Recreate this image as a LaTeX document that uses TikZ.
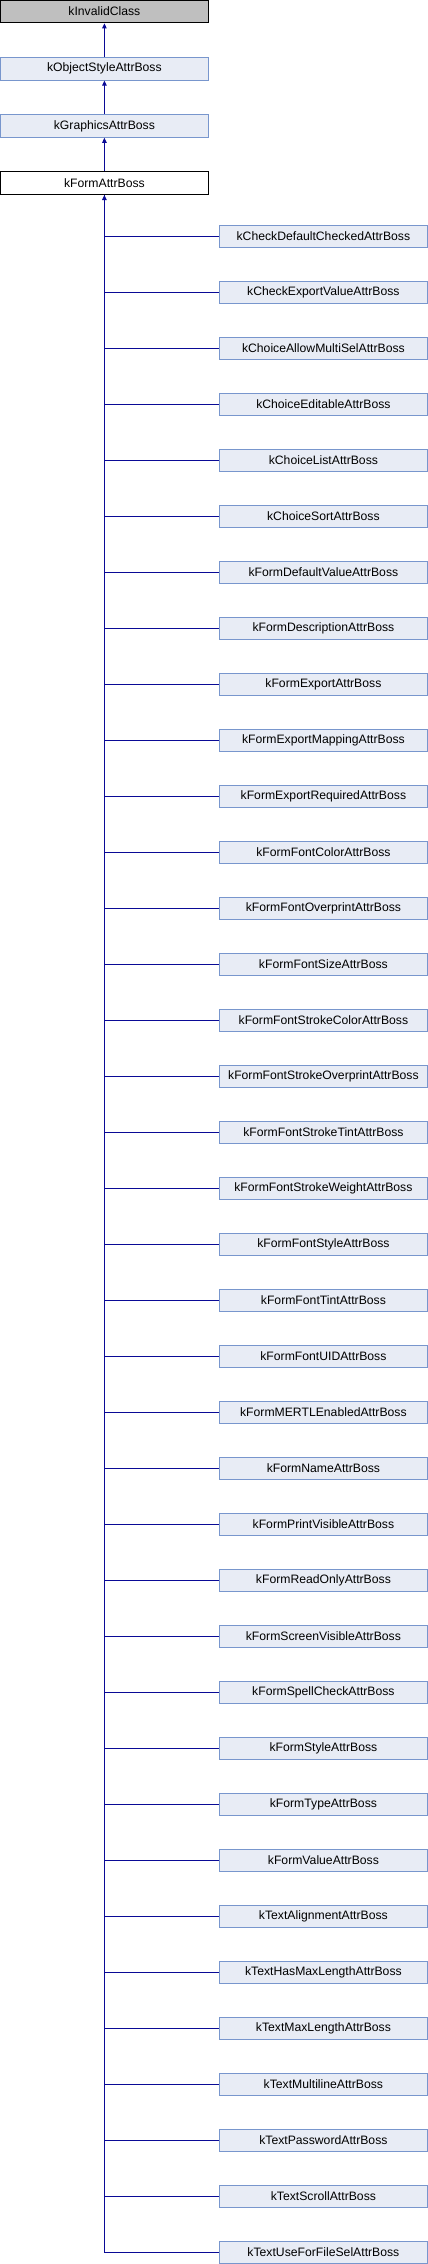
\documentclass[tikz,border=0pt]{standalone}
\usepackage{fontspec}
\setmainfont{Liberation Sans}
\usepackage{tikz}
\usetikzlibrary{arrows.meta,positioning}
\definecolor{boxfill}{RGB}{232,236,245}
\definecolor{boxline}{RGB}{120,150,205}
\definecolor{edgeblue}{RGB}{10,10,150}
\definecolor{rootfill}{RGB}{191,191,191}

\begin{document}
\begin{tikzpicture}[
  x=1pt, y=1pt,
  node distance=33.6pt,
  box/.style={draw=boxline, fill=boxfill, line width=1pt, minimum width=208pt, minimum height=22.6pt, inner sep=0pt, align=center, font=\fontsize{12.2}{14}\selectfont},
  rootbox/.style={box, draw=black, fill=rootfill},
  curbox/.style={box, draw=black, fill=white},
  edge/.style={draw=edgeblue, line width=1pt},
  inherit/.style={edge, -{Triangle[length=5pt,width=4.5pt]}}
]
\useasboundingbox (0,0) rectangle (428,-2264);

\node[rootbox] (invalid) at (104.4,-11.6) {kInvalidClass};
\node[box, below=of invalid] (objstyle) {kObjectStyleAttrBoss};
\node[box, below=of objstyle] (graphics) {kGraphicsAttrBoss};
\node[curbox, below=of graphics] (form) {kFormAttrBoss};

\draw[inherit] (objstyle) -- (invalid);
\draw[inherit] (graphics) -- (objstyle);
\draw[inherit] (form) -- (graphics);

% derived classes
\foreach \name [count=\i] in {CheckDefaultChecked, CheckExportValue, ChoiceAllowMultiSel,
    ChoiceEditable, ChoiceList, ChoiceSort, FormDefaultValue, FormDescription, FormExport,
    FormExportMapping, FormExportRequired, FormFontColor, FormFontOverprint, FormFontSize,
    FormFontStrokeColor, FormFontStrokeOverprint, FormFontStrokeTint, FormFontStrokeWeight,
    FormFontStyle, FormFontTint, FormFontUID, FormMERTLEnabled, FormName, FormPrintVisible,
    FormReadOnly, FormScreenVisible, FormSpellCheck, FormStyle, FormType, FormValue,
    TextAlignment, TextHasMaxLength, TextMaxLength, TextMultiline, TextPassword, TextScroll,
    TextUseForFileSel} {
  \node[box] (d\i) at (323.4,{-236.3-56*(\i-1)}) {k\name AttrBoss};
  \draw[edge] (d\i.west) -| (form.south);
}
\draw[inherit] (d37.west) -| (form.south);

\end{tikzpicture}
\end{document}
